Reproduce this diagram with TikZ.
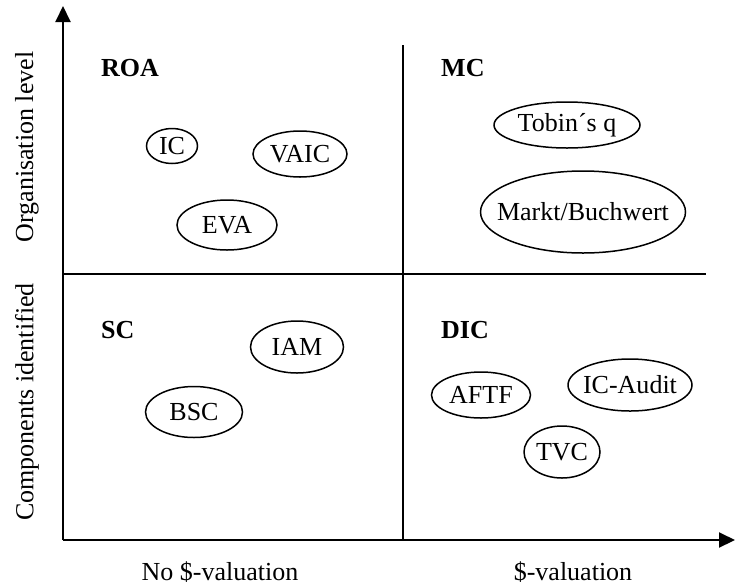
\documentclass[tikz,border=0pt]{standalone}
\usepackage{fontspec}
\setmainfont{Liberation Serif}
\usetikzlibrary{arrows.meta}
% a labelled method: text node plus an ellipse of given width and height
\newcommand\methodoval[5]{%
  \node[methodtext] (#1) at (#2) {#5};
  \draw[ovalline] (#1.center) ellipse [x radius=#3/2, y radius=#4/2];
}
\begin{document}
\begin{tikzpicture}[x=1pt,y=-1pt,
  axis/.style={line width=2pt},
  divider/.style={line width=2pt},
  ovalline/.style={line width=1.5pt},
  methodtext/.style={inner sep=0pt,font=\fontsize{26}{30}\selectfont},
  quad/.style={inner sep=0pt,font=\fontsize{26}{30}\selectfont\bfseries,anchor=base west},
  axlabel/.style={inner sep=0pt,font=\fontsize{26}{30}\selectfont}]
\useasboundingbox (0,0) rectangle (735,587);
% axes
\coordinate (origin) at (63,540);
\coordinate (ytop) at (63,6);
\coordinate (xend) at (735,540);
\draw[axis,-{Triangle[length=16pt,width=15pt]}] (origin) -- (ytop);
\draw[axis,-{Triangle[length=16pt,width=15pt]}] (origin) -- (xend);
% quadrant dividers
\coordinate (vtop) at (403,45);
\coordinate (vbot) at (403,540);
\coordinate (hleft) at (63,274);
\coordinate (hright) at (706,274);
\draw[divider] (vtop) -- (vbot);
\draw[divider] (hleft) -- (hright);
% quadrant titles
\node[quad] (roa) at (101,76) {ROA};
\node[quad] (mc) at (441,76) {MC};
\node[quad] (sc) at (101,338) {SC};
\node[quad] (dic) at (441,338) {DIC};
% methods
\methodoval{ic}{172,146}{51}{35}{IC}
\methodoval{vaic}{300,154}{94}{46}{VAIC}
\methodoval{eva}{227,225}{100}{50}{EVA}
\methodoval{tobin}{567,125}{146}{46}{Tobin´s q}
\methodoval{markt}{583,212}{205}{82}{Markt/Buchwert}
\methodoval{iam}{297,347}{93}{52}{IAM}
\methodoval{bsc}{194,412}{97}{51}{BSC}
\methodoval{aftf}{481,395}{99}{46}{AFTF}
\methodoval{icaudit}{630,385}{124}{52}{IC-Audit}
\methodoval{tvc}{562,452}{76}{52}{TVC}
% axis labels
\node[axlabel,rotate=90] (orglevel) at (27,147) {Organisation level};
\node[axlabel,rotate=90] (components) at (27,402) {Components identified};
\node[axlabel,anchor=base] (nodollar) at (220,580) {No \$-valuation};
\node[axlabel,anchor=base] (dollar) at (573,580) {\$-valuation};
\end{tikzpicture}
\end{document}
